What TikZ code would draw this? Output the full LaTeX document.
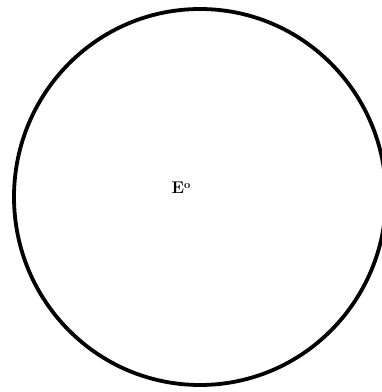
\documentclass[tikz,border=0pt]{standalone}
\usetikzlibrary{shapes.geometric}
\begin{document}
\begin{tikzpicture}[x=1pt,y=1pt,
  ring/.style={draw=black,line width=3.8pt},
  lab/.style={font=\fontsize{17}{19}\selectfont\bfseries,inner sep=0pt}]
\useasboundingbox (0,0) rectangle (382,392);
\node[ring,ellipse,minimum width=372pt,minimum height=376pt,inner sep=0pt] (c) at (200,195) {};
\node[lab] (e) at (181,204.5) {E\raisebox{0.3em}{\fontsize{11}{13}\selectfont o}};
\end{tikzpicture}
\end{document}
